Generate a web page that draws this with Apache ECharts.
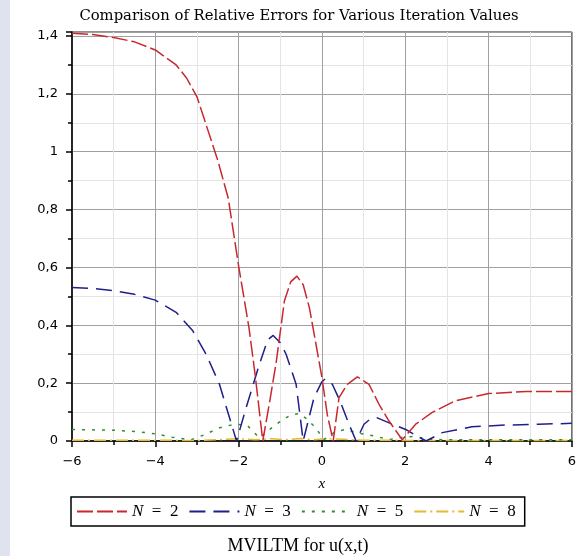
<!DOCTYPE html>
<html>
<head>
<meta charset="utf-8">
<script src="https://cdn.jsdelivr.net/npm/echarts@6/dist/echarts.min.js"></script>
<style>
  html, body { margin: 0; padding: 0; background: #fff; }
  #chart { width: 579px; height: 556px; }
</style>
</head>
<body>
<div id="chart"></div>
<script>
// relative error curves
let xN2 = [-6, -5.5, -5, -4.5, -4, -3.5, -3.25, -3, -2.75, -2.5, -2.25, -2, -1.75, -1.6, -1.42, -1.25, -1.1, -0.9, -0.75, -0.6, -0.45, -0.3, -0.15, 0, 0.13, 0.27, 0.41, 0.61, 0.85, 1.13, 1.37, 1.61, 1.93, 2.25, 2.64, 3.2, 4, 4.9, 6]
let yN2 = [1.41, 1.405, 1.395, 1.38, 1.352, 1.30, 1.255, 1.19, 1.08, 0.97, 0.84, 0.605, 0.39, 0.225, 0.0, 0.14, 0.27, 0.485, 0.55, 0.57, 0.54, 0.46, 0.34, 0.22, 0.09, 0.0, 0.15, 0.196, 0.222, 0.196, 0.127, 0.069, 0.004, 0.058, 0.098, 0.139, 0.164, 0.171, 0.171]

let xN3 = [-6, -5.5, -5, -4.5, -4, -3.5, -3.1, -2.78, -2.46, -2.22, -2.05, -1.82, -1.5, -1.3, -1.17, -1.0, -0.86, -0.62, -0.45, -0.19, 0, 0.08, 0.25, 0.45, 0.65, 0.82, 1.01, 1.15, 1.33, 1.69, 2.01, 2.25, 2.5, 2.89, 3.6, 4.4, 5.2, 6]
let yN3 = [0.531, 0.527, 0.52, 0.507, 0.487, 0.445, 0.381, 0.30, 0.196, 0.081, 0.0, 0.115, 0.266, 0.35, 0.365, 0.34, 0.30, 0.196, 0.0, 0.15, 0.205, 0.215, 0.196, 0.133, 0.058, 0.0, 0.058, 0.075, 0.08, 0.058, 0.04, 0.02, 0.0, 0.029, 0.049, 0.055, 0.058, 0.061]

let xN5 = [-6, -5, -4.5, -4, -3.6, -3.15, -2.85, -2.45, -2.1, -1.8, -1.5, -1.3, -1.0, -0.75, -0.55, -0.35, -0.15, 0.05, 0.3, 0.55, 0.8, 1.0, 1.3, 1.6, 1.9, 2.2, 2.6, 3, 4, 5, 6]
let yN5 = [0.04, 0.037, 0.033, 0.025, 0.013, 0.004, 0.02, 0.046, 0.058, 0.055, 0.01, 0.035, 0.068, 0.09, 0.095, 0.075, 0.045, 0.005, 0.03, 0.04, 0.03, 0.024, 0.016, 0.005, 0.012, 0.016, 0.006, 0.004, 0.004, 0.004, 0.004]

let xN8 = [-6, -3, -2.3, -2.0, -1.6, -1.2, -0.9, -0.5, -0.2, 0.1, 0.5, 1, 2, 6]
let yN8 = [0.003, 0.002, 0.006, 0.008, 0.004, 0.008, 0.004, 0.009, 0.004, 0.008, 0.006, 0.003, 0.002, 0.002]

let seriesNames = ['N = 2', 'N = 3', 'N = 5', 'N = 8']
let seriesColors = ['#c8282e', '#1f1f8a', '#2f8f2f', '#e8b830']
let seriesDash = [[16, 4], [16, 8], [3, 7], [12, 4, 2, 4]]

function pairs(xs, ys) {
    return xs.map(function(x, i) { return [x, ys[i]] })
}

let allData = [pairs(xN2, yN2), pairs(xN3, yN3), pairs(xN5, yN5), pairs(xN8, yN8)]

let chart = echarts.init(document.getElementById('chart'))

let option = {
    backgroundColor: '#fff',
    animation: false,
    graphic: [{
        type: 'rect',
        left: 0, top: 0,
        shape: { width: 10, height: 556 },
        style: { fill: '#dfe3ef' }
    }],
    title: [{
        text: 'Comparison of Relative Errors for Various Iteration Values',
        left: 294, top: 4, textAlign: 'center',
        textStyle: { fontFamily: 'DejaVu Serif', fontSize: 14.8, fontWeight: 'normal', color: '#000' }
    }, {
        text: 'MVILTM for u(x,t)',
        left: 293, top: 532, textAlign: 'center',
        textStyle: { fontFamily: 'Liberation Serif', fontSize: 18, fontWeight: 'normal', color: '#000' }
    }],
    legend: {
        left: 71, top: 497,
        orient: 'horizontal',
        data: seriesNames,
        borderColor: '#000', borderWidth: 1.5,
        padding: [6, 9, 6, 5],
        itemGap: 10,
        itemWidth: 50, itemHeight: 14,
        itemStyle: { opacity: 0 },
        formatter: function(name) {
            return '{i|N}  =  ' + name.split('= ')[1]
        },
        textStyle: {
            fontFamily: 'Liberation Serif', fontSize: 17, color: '#000',
            rich: { i: { fontFamily: 'Liberation Serif', fontStyle: 'italic', fontSize: 17, color: '#000' } }
        }
    },
    grid: {
        left: 72, right: 6, top: 32, bottom: 115,
        show: true, borderColor: '#222', borderWidth: 1
    },
    xAxis: {
        type: 'value', min: -6, max: 6, interval: 2,
        name: 'x', nameLocation: 'middle', nameGap: 36,
        nameTextStyle: { fontFamily: 'Liberation Serif', fontStyle: 'italic', fontSize: 15, color: '#000' },
        axisLine: { onZero: false, lineStyle: { color: '#000', width: 1.5 } },
        axisTick: { length: 6, lineStyle: { color: '#000', width: 1.5 } },
        minorTick: { show: true, splitNumber: 2, length: 4, lineStyle: { color: '#000', width: 1.5 } },
        axisLabel: {
            margin: 14, fontFamily: 'DejaVu Sans', fontSize: 13, color: '#000',
            formatter: function(v) { return String(v).replace('-', '\u2212') }
        },
        splitLine: { show: true, lineStyle: { color: '#a0a0a0', width: 1 } },
        minorSplitLine: { show: true, lineStyle: { color: '#e4e4e4', width: 1 } }
    },
    yAxis: {
        type: 'value', min: 0, max: 1.414, interval: 0.2,
        axisLine: { onZero: false, lineStyle: { color: '#000', width: 1.5 } },
        axisTick: { length: 6, lineStyle: { color: '#000', width: 1.5 } },
        minorTick: { show: true, splitNumber: 2, length: 4, lineStyle: { color: '#000', width: 1.5 } },
        axisLabel: {
            margin: 14, fontFamily: 'DejaVu Sans', fontSize: 13, color: '#000',
            showMaxLabel: false,
            formatter: function(v) { return String(+v.toFixed(1)).replace('.', ',') }
        },
        splitLine: { show: true, lineStyle: { color: '#a0a0a0', width: 1 } },
        minorSplitLine: { show: true, lineStyle: { color: '#e4e4e4', width: 1 } }
    },
    series: seriesNames.map(function(name, i) {
        return {
            name: name,
            type: 'line',
            data: allData[i],
            showSymbol: false,
            symbol: 'none',
            color: seriesColors[i],
            lineStyle: { color: seriesColors[i], width: 1.5, type: seriesDash[i] },
            z: 10 - i
        }
    })
}

chart.setOption(option)
</script>
</body>
</html>
